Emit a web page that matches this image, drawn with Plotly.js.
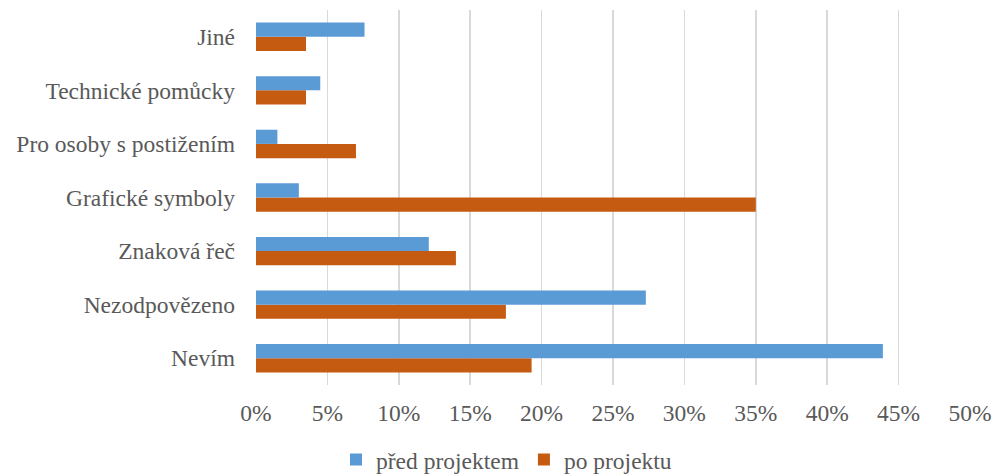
<!DOCTYPE html>
<html>
<head>
<meta charset="utf-8">
<script src="https://cdn.plot.ly/plotly-3.0.1.min.js"></script>
<style>
  html, body { margin: 0; padding: 0; background: #fff; }
  #chart { width: 992px; height: 476px; }
</style>
</head>
<body>
<div id="chart"></div>
<script>
// Categories listed bottom to top
const categories = ["Nevím", "Nezodpovězeno", "Znaková řeč", "Grafické symboly",
                    "Pro osoby s postižením", "Technické pomůcky", "Jiné"];
// Shares in percent
const predProjektem = [43.9, 27.3, 12.1, 3.0, 1.5, 4.5, 7.6];
const poProjektu    = [19.3, 17.5, 14.0, 35.0, 7.0, 3.5, 3.5];
const xTicks = [0, 5, 10, 15, 20, 25, 30, 35, 40, 45, 50];
const xTickLabels = xTicks.map(v => v + "%");

const serif = "'Times New Roman', 'Liberation Serif', 'DejaVu Serif', serif";
const labelFont = { family: serif, size: 23.5, color: "#595959" };

// "po projektu" is drawn first so that it sits below "před projektem" in each group
const traces = [
  {
    type: "bar", orientation: "h", name: "po projektu",
    y: categories, x: poProjektu,
    marker: { color: "#C55A11" }, legendrank: 2, hoverinfo: "x+y"
  },
  {
    type: "bar", orientation: "h", name: "před projektem",
    y: categories, x: predProjektem,
    marker: { color: "#5B9BD5" }, legendrank: 1, hoverinfo: "x+y"
  }
];

const layout = {
  width: 992, height: 476,
  margin: { l: 256, r: 22, t: 10, b: 91 },
  paper_bgcolor: "#fff", plot_bgcolor: "#fff",
  barmode: "group", bargap: 0.47, bargroupgap: 0,
  font: labelFont,
  xaxis: {
    range: [0, 50], tickmode: "array", tickvals: xTicks, ticktext: xTickLabels,
    tickfont: labelFont,
    showgrid: true, gridcolor: "#d9d9d9", gridwidth: 1.5,
    zeroline: false, showline: false, ticks: "",
    ticklabelstandoff: 11, fixedrange: true
  },
  yaxis: {
    type: "category", categoryorder: "array", categoryarray: categories,
    tickfont: labelFont,
    showgrid: false, zeroline: false, showline: false, ticks: "",
    ticklabelstandoff: 20, fixedrange: true
  },
  showlegend: true,
  legend: {
    orientation: "h", xref: "container", yref: "container",
    x: 336 / 992, xanchor: "left", y: 0.034, yanchor: "middle",
    font: labelFont,
    itemwidth: 30, tracegroupgap: 0
  }
};

Plotly.newPlot("chart", traces, layout, { displayModeBar: false, staticPlot: true });
</script>
</body>
</html>
